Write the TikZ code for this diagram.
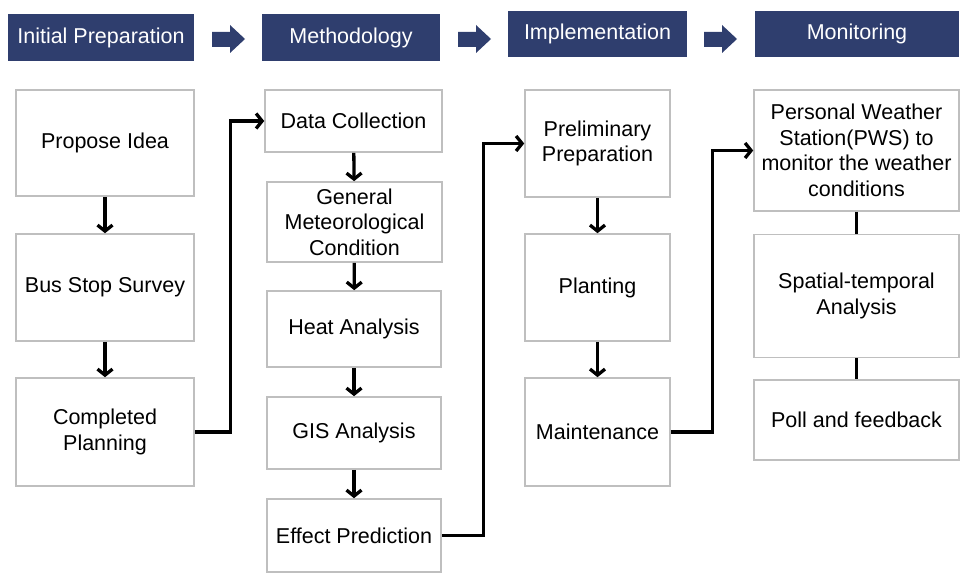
\documentclass[tikz,border=0pt]{standalone}
\usepackage{fontspec}
\setmainfont{Liberation Sans}
\usetikzlibrary{arrows.meta}

\definecolor{navy}{RGB}{47,62,110}
\definecolor{boxgray}{RGB}{191,191,191}

\tikzset{
    header/.style={fill=navy,text=white,inner sep=0pt,font=\fontsize{21.5}{25.5}\selectfont},
    box/.style={draw=boxgray,line width=1.6pt,align=center,inner sep=0pt,font=\fontsize{21.5}{25.5}\selectfont},
    conn/.style={line width=3.3pt,-{Straight Barb[length=6pt,width=15pt]}},
    link/.style={line width=3.3pt}
}

\begin{document}
\begin{tikzpicture}[x=1pt,y=-1pt]
            \useasboundingbox (0,0) rectangle (971,583);

            % phase headers
            \node [header,minimum width=186pt,minimum height=47pt]
                (init) at (101, 37.5) {Initial Preparation};
            \node [header,minimum width=178pt,minimum height=47pt]
                (meth) at (351, 37.5) {Methodology};
            \node [header,minimum width=179pt,minimum height=46pt]
                (impl) at (597.5, 34) {Implementation};
            \node [header,minimum width=204pt,minimum height=46pt]
                (mon) at (857, 34) {Monitoring};

            % block arrows between headers
            \fill [navy] (212,32) -- (230,32) -- (230,25) -- (245,39)
                -- (230,53) -- (230,47) -- (212,47) -- cycle;
            \fill [navy] (458,32) -- (476,32) -- (476,25) -- (491,39)
                -- (476,53) -- (476,47) -- (458,47) -- cycle;
            \fill [navy] (704,32) -- (722,32) -- (722,25) -- (737,39)
                -- (722,53) -- (722,47) -- (704,47) -- cycle;

            % initial preparation
            \node [box,minimum width=178pt,minimum height=106pt]
                (idea) at (105, 143) {Propose Idea};
            \node [box,minimum width=178pt,minimum height=107pt]
                (survey) at (105, 287.5) {Bus Stop Survey};
            \node [box,minimum width=178pt,minimum height=108pt]
                (planning) at (105, 432) {Completed\\Planning};

            % methodology
            \node [box,minimum width=177pt,minimum height=62pt]
                (data) at (353.5, 121) {Data Collection};
            \node [box,minimum width=175pt,minimum height=80pt]
                (meteo) at (354.5, 222) {General\\Meteorological\\Condition};
            \node [box,minimum width=174pt,minimum height=76pt]
                (heat) at (354, 329) {Heat Analysis};
            \node [box,minimum width=174pt,minimum height=72pt]
                (gis) at (354, 433) {GIS Analysis};
            \node [box,minimum width=174pt,minimum height=73pt]
                (effect) at (354, 535.5) {Effect Prediction};

            % implementation
            \node [box,minimum width=145pt,minimum height=107pt]
                (prelim) at (597.5, 143.5) {Preliminary\\Preparation};
            \node [box,minimum width=145pt,minimum height=107pt]
                (planting) at (597.5, 287.5) {Planting};
            \node [box,minimum width=145pt,minimum height=108pt]
                (maint) at (597.5, 432) {Maintenance};

            % monitoring
            \node [box,minimum width=205pt,minimum height=121pt]
                (pws) at (856.5, 150.5) {Personal Weather\\Station(PWS) to\\monitor the weather\\conditions};
            \node [box,minimum width=205pt,minimum height=123pt]
                (spatial) at (856.5, 296) {Spatial-temporal\\Analysis};
            \node [box,minimum width=205pt,minimum height=80pt]
                (poll) at (856.5, 420) {Poll and feedback};

            \draw [conn] (idea) -- (survey);
            \draw [conn] (survey) -- (planning);
            \draw [conn] (data) -- (meteo);
            \draw [conn] (meteo) -- (heat);
            \draw [conn] (heat) -- (gis);
            \draw [conn] (gis) -- (effect);
            \draw [conn] (prelim) -- (planting);
            \draw [conn] (planting) -- (maint);
            \draw [link] (pws) -- (spatial);
            \draw [link] (spatial) -- (poll);

            % links between phases
            \draw [conn] (planning.east) -- ++(36, 0) |- (data.west);
            \draw [conn] (effect.east) -- ++(42, 0) |- (prelim.west);
            \draw [conn] (maint.east) -- ++(42, 0) |- (pws.west);
        \end{tikzpicture}
\end{document}
